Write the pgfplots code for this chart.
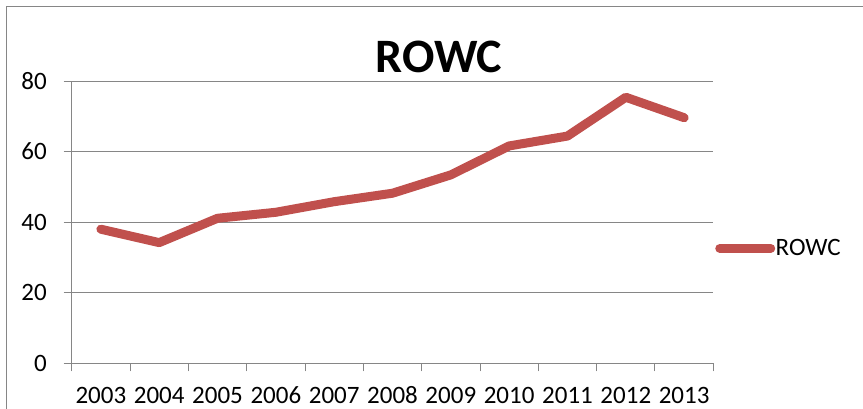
\documentclass[border=0pt]{standalone}
\usepackage{fontspec}
\setmainfont[Numbers=Lining]{Carlito}
\usepackage{pgfplots}
\pgfplotsset{compat=1.18}
\definecolor{rowcred}{RGB}{192,80,77}
\definecolor{axgray}{RGB}{134,134,134}

\begin{document}
\begin{tikzpicture}[x=1bp,y=1bp]
\useasboundingbox (0,0) rectangle (863,408);
\clip (0,0) rectangle (863,408);
% chart area frame
\draw[axgray, line width=1bp] (6.5,-20) -- (6.5,401.5) -- (880,401.5);
% chart title
\node[font=\bfseries\fontsize{48bp}{56bp}\selectfont, anchor=base, inner sep=0pt] at (439,336) {ROWC};
\begin{axis}[
  at={(71.7bp,44.7bp)}, anchor=south west,
  scale only axis, width=641.6bp, height=282.3bp,
  xmin=0, xmax=11, ymin=0, ymax=80,
  axis x line*=bottom, axis y line*=left,
  axis line style={axgray, line width=1bp, -},
  xtick={0,1,...,11}, xticklabels={},
  extra x ticks={0.5,1.5,...,10.5},
  extra x tick labels={2003,2004,2005,2006,2007,2008,2009,2010,2011,2012,2013},
  extra x tick style={major tick length=0pt, xticklabel style={anchor=base, inner sep=0pt, yshift=-40.2bp}},
  ytick={0,20,...,80},
  ymajorgrids, grid style={axgray, line width=1bp},
  tick align=outside, major tick length=8bp,
  tick style={axgray, line width=1bp},
  tick label style={font=\fontsize{25bp}{30bp}\selectfont},
  yticklabel style={anchor=east, inner sep=0pt, xshift=-16.7bp},
  /pgf/number format/assume math mode=true,
  legend style={at={(axis description cs:1.0027,0.407)}, anchor=west, draw=none, fill=none,
    inner sep=0pt, font=\fontsize{25bp}{30bp}\selectfont, nodes={inner sep=0.5bp},
    /tikz/every even column/.append style={column sep=0bp}},
  legend image code/.code={\draw[#1] (0bp,0bp) -- (51bp,0bp);},
]
\addplot[rowcred, line width=9bp, line join=round, line cap=round] coordinates {
  (0.5,38.0) (1.5,34.2) (2.5,41.1) (3.5,42.8) (4.5,45.8) (5.5,48.2)
  (6.5,53.4) (7.5,61.6) (8.5,64.4) (9.5,75.4) (10.5,69.6)
};
\addlegendentry{ROWC}
\end{axis}
\end{tikzpicture}
\end{document}
